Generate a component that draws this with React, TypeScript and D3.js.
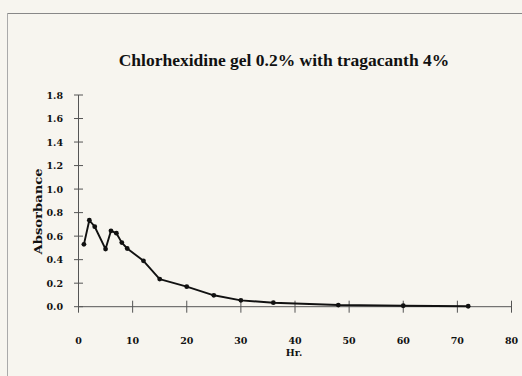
import { useEffect, useRef } from "react"
import * as d3 from "d3"

// hours and absorbance
const hours = [1, 2, 3, 5, 6, 7, 8, 9, 12, 15, 20, 25, 30, 36, 48, 60, 72]
const absorbance = [0.53, 0.735, 0.68, 0.49, 0.645, 0.625, 0.545, 0.495, 0.39, 0.235, 0.17, 0.097, 0.054, 0.034, 0.014, 0.008, 0.004]
const xTicks = [0, 10, 20, 30, 40, 50, 60, 70, 80]
const yTicks = [0, 0.2, 0.4, 0.6, 0.8, 1.0, 1.2, 1.4, 1.6, 1.8]

export default function App() {
  const svgRef = useRef<SVGSVGElement>(null)
  const width = 522
  const height = 376

  useEffect(() => {
    if (!svgRef.current) return
    const svg = d3.select(svgRef.current)
    svg.selectAll("*").remove()

    const x = d3.scaleLinear().domain([0, 80]).range([78.5, 511.5])
    const y = d3.scaleLinear().domain([0, 1.8]).range([306.7, 95])

    svg.append("rect").attr("width", width).attr("height", height).attr("fill", "#f7f5ef")

    // frame from the scan
    svg.append("line").attr("x1", 7).attr("x2", width).attr("y1", 13.5).attr("y2", 13.5)
      .attr("stroke", "#888").attr("stroke-width", 1)
    svg.append("line").attr("x1", 7.5).attr("x2", 7.5).attr("y1", 13).attr("y2", height)
      .attr("stroke", "#aaa").attr("stroke-width", 1)

    svg.append("text")
      .attr("x", 284).attr("y", 66)
      .attr("text-anchor", "middle")
      .attr("font-family", "Liberation Serif")
      .attr("font-weight", "bold")
      .attr("font-size", "17.5px")
      .attr("fill", "#111")
      .text("Chlorhexidine gel 0.2% with tragacanth 4%")

    const axisColor = "#555"
    const font = "DejaVu Serif"

    // x axis
    svg.append("line").attr("x1", x(0)).attr("x2", x(80)).attr("y1", y(0)).attr("y2", y(0))
      .attr("stroke", axisColor).attr("stroke-width", 1)
    svg.selectAll(".xt").data(xTicks).enter().append("line")
      .attr("x1", (d) => x(d)).attr("x2", (d) => x(d))
      .attr("y1", y(0) - 6).attr("y2", y(0) + 6)
      .attr("stroke", axisColor).attr("stroke-width", 1)
    svg.selectAll(".xl").data(xTicks).enter().append("text")
      .attr("x", (d) => x(d)).attr("y", 344)
      .attr("text-anchor", "middle")
      .attr("font-family", font).attr("font-weight", "bold").attr("font-size", "9.5px")
      .attr("fill", "#111")
      .text((d) => d)
    svg.append("text").attr("x", 294).attr("y", 356)
      .attr("text-anchor", "middle")
      .attr("font-family", font).attr("font-weight", "bold").attr("font-size", "9.5px")
      .attr("fill", "#111")
      .text("Hr.")

    // y axis
    svg.append("line").attr("x1", x(0)).attr("x2", x(0)).attr("y1", y(0)).attr("y2", y(1.8))
      .attr("stroke", axisColor).attr("stroke-width", 1)
    svg.selectAll(".yt").data(yTicks).enter().append("line")
      .attr("x1", x(0) - 4.5).attr("x2", x(0) + 4.5)
      .attr("y1", (d) => y(d)).attr("y2", (d) => y(d))
      .attr("stroke", axisColor).attr("stroke-width", 1)
    svg.selectAll(".yl").data(yTicks).enter().append("text")
      .attr("x", 63).attr("y", (d) => y(d))
      .attr("text-anchor", "end").attr("dominant-baseline", "central")
      .attr("font-family", font).attr("font-weight", "bold").attr("font-size", "9.5px")
      .attr("fill", "#111")
      .text((d) => d.toFixed(1))
    svg.append("text")
      .attr("transform", `translate(37.5, ${y(0.81)}) rotate(-90)`)
      .attr("text-anchor", "middle").attr("dominant-baseline", "central")
      .attr("font-family", font).attr("font-weight", "bold").attr("font-size", "10.5px")
      .attr("textLength", 86).attr("lengthAdjust", "spacingAndGlyphs")
      .attr("fill", "#111")
      .text("Absorbance")

    const points = hours.map((h, i) => [h, absorbance[i]] as [number, number])
    const line = d3.line<[number, number]>().x((d) => x(d[0])).y((d) => y(d[1]))
    svg.append("path").datum(points).attr("d", line)
      .attr("fill", "none").attr("stroke", "#111").attr("stroke-width", 1.9)
      .attr("stroke-linejoin", "round")
    svg.selectAll(".pt").data(points).enter().append("circle")
      .attr("cx", (d) => x(d[0])).attr("cy", (d) => y(d[1])).attr("r", 2.4)
      .attr("fill", "#111")
  }, [])

  return (
    <div style={{ position: "absolute", left: 0, top: 0 }}>
      <svg ref={svgRef} width={width} height={height} style={{ display: "block" }} />
    </div>
  )
}
